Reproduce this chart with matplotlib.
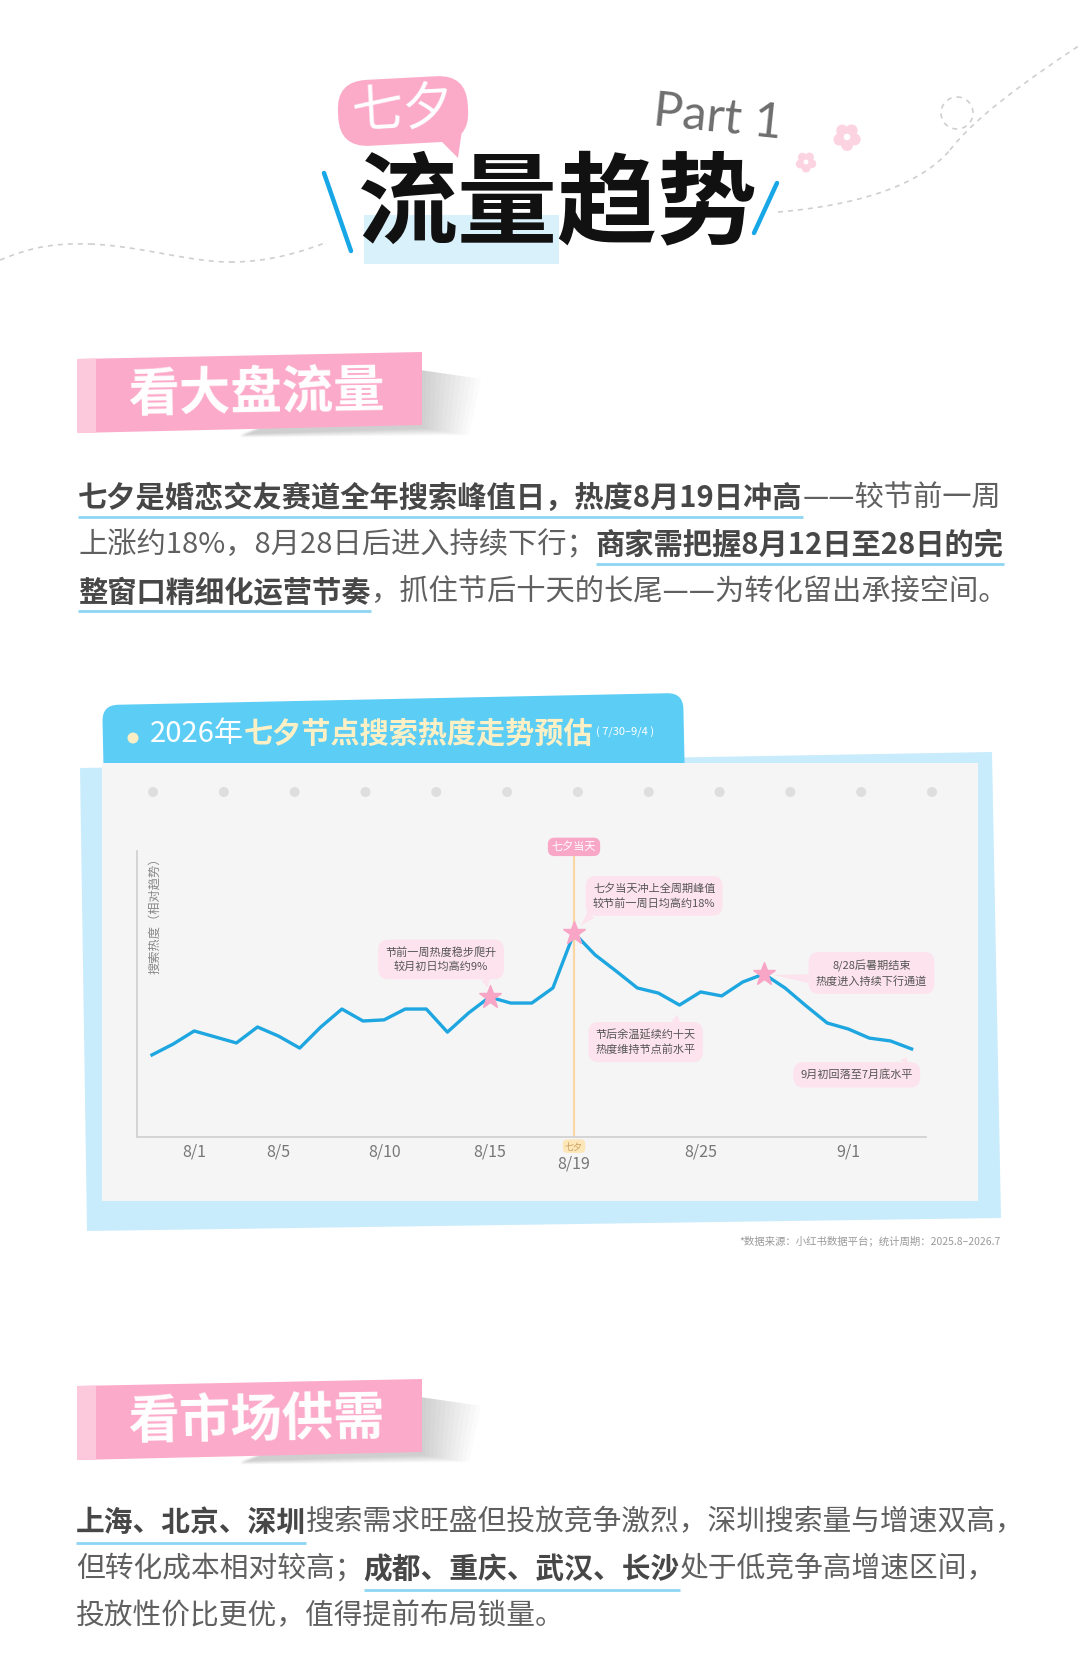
import numpy as np
import pandas as pd
import matplotlib
matplotlib.use('Agg')
import matplotlib.pyplot as plt
from matplotlib.patches import FancyBboxPatch, Polygon, Circle, Rectangle
from matplotlib.transforms import Affine2D, blended_transform_factory

plt.rcParams['font.family'] = ['Noto Sans CJK SC', 'DejaVu Sans']

# ---- data ----
days = pd.date_range('2026-07-30', '2026-09-04')
day_labels = [f'{d.month}/{d.day}' for d in days]
heat = [28.8, 32.6, 37.2, 35.1, 33.0, 38.6, 35.4, 31.2, 38.6, 44.9,
        40.7, 41.1, 44.9, 44.9, 36.8, 43.5, 49.1, 47.0, 47.0, 52.3,
        71.6, 63.9, 58.2, 52.3, 50.5, 46.3, 50.9, 49.5, 54.4, 57.2,
        52.3, 46.0, 40.0, 37.9, 34.7, 33.7, 30.9]
tick_days = ['8/1', '8/5', '8/10', '8/15', '8/19', '8/25', '9/1']
qixi_day = '8/19'
star_days = ['8/15', '8/19', '8/28']
note_days = ['8/15', '8/19', '8/24', '8/28', '9/4']
note_texts = ['节前一周热度稳步爬升\n较月初日均高约9%',
              '七夕当天冲上全周期峰值\n较节前一周日均高约18%',
              '节后余温延续约十天\n热度维持节点前水平',
              '8/28后暑期结束\n热度进入持续下行通道',
              '9月初回落至7月底水平']

para1 = [[('七夕是婚恋交友赛道全年搜索峰值日，热度8月19日冲高', True), ('——较节前一周', False)],
         [('上涨约18%，8月28日后进入持续下行；', False), ('商家需把握8月12日至28日的完', True)],
         [('整窗口精细化运营节奏', True), ('，抓住节后十天的长尾——为转化留出承接空间。', False)]]
para2 = [[('上海、北京、深圳', True), ('搜索需求旺盛但投放竞争激烈，深圳搜索量与增速双高，', False)],
         [('但转化成本相对较高；', False), ('成都、重庆、武汉、长沙', True), ('处于低竞争高增速区间，', False)],
         [('投放性价比更优，值得提前布局锁量。', False)]]

BLUE = '#1ea6e0'
PINK = '#fcaac9'
NOTE_BG = '#fde3ed'

fig = plt.figure(figsize=(10.8, 16.6), dpi=100)
fig.patch.set_facecolor('white')
bg = fig.add_axes([0, 0, 1, 1])
bg.set_xlim(0, 1080)
bg.set_ylim(1660, 0)
bg.axis('off')
renderer = fig.canvas.get_renderer()


def bez(p0, p1, p2, p3, n=60):
    t = np.linspace(0, 1, n)[:, None]
    p0, p1, p2, p3 = map(np.array, (p0, p1, p2, p3))
    return (1 - t) ** 3 * p0 + 3 * (1 - t) ** 2 * t * p1 + 3 * (1 - t) * t ** 2 * p2 + t ** 3 * p3


def flower(cx, cy, r, off):
    for a in np.linspace(0, 2 * np.pi, 6)[:-1] + 0.3:
        bg.add_patch(Circle((cx + off * np.cos(a), cy + off * np.sin(a)), r, color='#fcd3e1', lw=0))
    bg.add_patch(Circle((cx, cy), r * 0.55, color='white', lw=0))


def runs_line(x, y, runs, size, c_bold='#474747', c_reg='#606060', uline=None, bold_color=None):
    for text, bold in runs:
        t = bg.text(x, y, text, fontsize=size, va='center', ha='left',
                    fontweight='bold' if bold else 'normal',
                    color=(bold_color or c_bold) if bold else c_reg)
        w = t.get_window_extent(renderer=renderer).width
        if bold and uline is not None:
            bg.plot([x, x + w], [y + uline, y + uline], color='#8dd5f2', lw=2, solid_capstyle='butt', zorder=1)
        x += w
    return x


# ---- header ----
for seg in [bez((0, 260), (30, 248), (50, 243), (90, 244)),
            bez((90, 244), (140, 246), (190, 262), (230, 262)),
            bez((230, 262), (270, 262), (300, 252), (325, 243)),
            bez((778, 212), (860, 205), (920, 185), (950, 150)),
            bez((950, 150), (975, 118), (1020, 85), (1080, 45))]:
    bg.plot(seg[:, 0], seg[:, 1], color='#cfcfcf', lw=1.2, ls=(0, (3, 3)))
bg.add_patch(Circle((957, 113), 16, fill=False, ec='#cfcfcf', lw=1.2, ls=(0, (3, 3))))
flower(847, 137, 6, 8)
flower(806, 162, 4.5, 6)

bubble = FancyBboxPatch((338, 78), 130, 66, boxstyle='round,pad=0,rounding_size=30',
                        fc='#fbabc8', ec='none',
                        transform=Affine2D().rotate_deg_around(403, 111, -3) + bg.transData)
bg.add_patch(bubble)
bg.add_patch(Polygon([(436, 136), (462, 130), (458, 158)], closed=True, fc='#fbabc8', ec='none'))
bg.text(403, 110, '七夕', fontsize=37, color='white', ha='center', va='center', rotation=3)

bg.add_patch(Rectangle((364, 215), 195, 49, fc='#d9f1fb', ec='none'))
bg.text(558, 206, '流量趋势', fontsize=72, fontweight='heavy', color='#111111', ha='center', va='center')
bg.plot([324, 351], [173, 251], color='#17a6e6', lw=3.2, solid_capstyle='round')
bg.plot([777, 754], [183, 233], color='#17a6e6', lw=3.2, solid_capstyle='round')
bg.text(718, 118, 'Part 1', fontsize=35, color='#6e6e6e', ha='center', va='center', rotation=-6,
        family=['Lato', 'DejaVu Sans'], fontweight='normal')


# ---- section title boxes ----
def section_box(y0, title):
    top_l, top_r, bot_r, bot_l = y0, y0 - 7, y0 + 66, y0 + 74
    for d in range(4, 60, 5):
        bg.add_patch(Polygon([(405, top_r + 16), (422 + d, top_r + 18 + d * 0.15),
                              (422 + d * 0.8, bot_r + 3 + d * 0.12), (240, bot_l + 1 + d * 0.06)],
                             closed=True, fc='#000000', alpha=0.014, ec='none', lw=0))
    bg.add_patch(Polygon([(77, top_l), (422, top_r), (422, bot_r), (77, bot_l)], closed=True, fc=PINK, ec='none'))
    bg.add_patch(Polygon([(77, top_l), (96, top_l - 0.4), (96, bot_l - 0.4), (77, bot_l)], closed=True,
                         fc='#fcc9dc', ec='none'))
    bg.text(257, (top_l + bot_r) / 2 + 1, title, fontsize=37, fontweight='bold', color='white',
            ha='center', va='center', rotation=1)


section_box(359, '看大盘流量')
section_box(1386, '看市场供需')

for i, runs in enumerate(para1):
    runs_line(78, 498 + 47 * i, runs, 21.1, uline=19)
for i, runs in enumerate(para2):
    runs_line(76, 1522 + 47 * i, runs, 20.7, uline=21)

# ---- chart card ----
bg.add_patch(Polygon([(80, 768), (992, 752), (1001, 1218), (87, 1231)], closed=True, fc='#c9ecfc', ec='none'))
tab = FancyBboxPatch((103, 699), 581, 90, boxstyle='round,pad=0,rounding_size=16', fc='#5ccdf5', ec='none',
                     transform=Affine2D().rotate_deg_around(393, 740, -1.2) + bg.transData)
bg.add_patch(tab)
bg.add_patch(Rectangle((102, 763), 876, 438, fc='#f5f5f5', ec='none'))
for dx in np.linspace(153, 932, 12):
    bg.add_patch(Circle((dx, 792), 5, fc='#dedede', ec='none'))

bg.add_patch(Circle((133, 738), 5.5, fc='#fbeec4', ec='none'))
xe = runs_line(150, 734, [('2026年', False)], 21, c_reg='white')
xe = runs_line(xe, 734, [('七夕节点搜索热度走势预估', True)], 21, bold_color='#fdf0c4')
bg.text(xe + 2, 732, '( 7/30–9/4 )', fontsize=8, color='white', ha='left', va='center')

bg.text(1001, 1241, '*数据来源：小红书数据平台；统计周期：2025.8–2026.7', fontsize=7.5, color='#9a9a9a',
        ha='right', va='center')

# ---- line chart ----
x0_px, step_px = 152.0, 21.1
ax_l, ax_r, ax_b, ax_t = 137, 926, 1137, 851
ax = fig.add_axes([ax_l / 1080, 1 - ax_b / 1660, (ax_r - ax_l) / 1080, (ax_b - ax_t) / 1660])
ax.patch.set_alpha(0)
ax.set_xlim((ax_l - x0_px) / step_px, (ax_r - x0_px) / step_px)
ax.set_ylim(0, (ax_b - ax_t) / 2.85)

xs = np.arange(len(heat))
ax.plot(xs, heat, color=BLUE, lw=2.4, solid_joinstyle='round', zorder=3)
si = [day_labels.index(d) for d in star_days]
ax.plot(si, [heat[i] for i in si], ls='none', marker='*', ms=17, color='#f8a5c6', mec='#f8a5c6', zorder=5)

qi = day_labels.index(qixi_day)
ax.axvline(qi, ymin=0, ymax=0.985, color='#f9d6a4', lw=1.6, zorder=2)
ax.text(qi, 101.8, '七夕当天', fontsize=8, color='white', ha='center', va='center', clip_on=False,
        bbox=dict(boxstyle='round,pad=0.35,rounding_size=0.6', fc='#f9a7c6', ec='none'), zorder=6)

note_pos = [(13.7, 62.3), (23.8, 84.6), (23.4, 33.3), (34.1, 57.5), (33.4, 21.8)]
note_rel = [(0.88, 0.1), (0.05, 0.1), (0.78, 0.9), (0.04, 0.25), (0.88, 0.9)]
for d, txt, pos, rel in zip(note_days, note_texts, note_pos, note_rel):
    i = day_labels.index(d)
    ax.annotate(txt, xy=(i, heat[i]), xytext=pos, textcoords='data', fontsize=8, color='#555555',
                ha='center', va='center', linespacing=1.45, annotation_clip=False, zorder=4,
                bbox=dict(boxstyle='round,pad=0.65,rounding_size=0.9', fc=NOTE_BG, ec='none'),
                arrowprops=dict(arrowstyle='wedge,tail_width=0.8,shrink_factor=0.5', fc=NOTE_BG, ec='none',
                                relpos=rel, shrinkA=0, shrinkB=7))

ti = [day_labels.index(d) for d in tick_days]
ax.set_xticks(ti)
ax.set_xticklabels(tick_days, fontsize=11.5, color='#777777')
ax.tick_params(axis='x', length=0, pad=5)
ax.xaxis.get_major_ticks()[tick_days.index(qixi_day)].set_pad(13)
ax.set_yticks([])
tr = blended_transform_factory(ax.transData, ax.transAxes)
ax.text(qi, -0.032, '七夕', transform=tr, fontsize=6.5, color='#c9a060', ha='center', va='center',
        bbox=dict(boxstyle='round,pad=0.25,rounding_size=0.5', fc='#fde6b8', ec='none'), zorder=6)
ax.text(0.023, 1.0, '搜索热度（相对趋势）', transform=ax.transAxes, rotation=90, fontsize=8.8,
        color='#888888', ha='center', va='top')
for s in ['top', 'right']:
    ax.spines[s].set_visible(False)
for s in ['left', 'bottom']:
    ax.spines[s].set_color('#d2d2d2')
    ax.spines[s].set_linewidth(1.3)

fig.savefig('out.png', dpi=100)
